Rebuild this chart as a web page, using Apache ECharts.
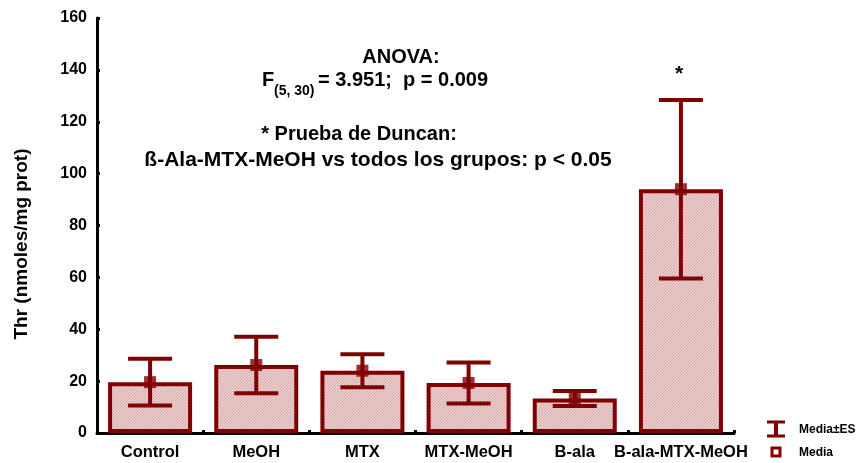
<!DOCTYPE html>
<html>
<head>
<meta charset="utf-8">
<script src="https://cdn.jsdelivr.net/npm/echarts@6/dist/echarts.min.js"></script>
<style>
  html, body { margin: 0; padding: 0; background: #ffffff; }
  #chart { width: 862px; height: 463px; }
</style>
</head>
<body>
<div id="chart"></div>
<script>
// Threonine levels per treatment group (mean and standard error)
const categories = ['Control', 'MeOH', 'MTX', 'MTX-MeOH', 'B-ala', 'B-ala-MTX-MeOH'];
const means = [19.6, 26.2, 24.0, 19.3, 13.3, 94.0];
const stdErrors = [9.0, 10.9, 6.4, 7.9, 2.9, 34.4];
const yTicks = [0, 20, 40, 60, 80, 100, 120, 140, 160];

const FONT = "'Liberation Sans', Arial, Helvetica, sans-serif";
const DARK_RED = '#800000';

// Fine diagonal hatch used as bar fill
function hatchPattern() {
  const c = document.createElement('canvas');
  c.width = 3; c.height = 3;
  const g = c.getContext('2d');
  g.fillStyle = '#ebcdcd';
  g.fillRect(0, 0, 3, 3);
  g.strokeStyle = '#d4aaaa';
  g.lineWidth = 1;
  g.beginPath();
  g.moveTo(0, 3); g.lineTo(3, 0);
  g.moveTo(-1, 1); g.lineTo(1, -1);
  g.moveTo(2, 4); g.lineTo(4, 2);
  g.stroke();
  return c;
}

const errorData = categories.map((c, i) => [i, means[i] - stdErrors[i], means[i] + stdErrors[i]]);

const chart = echarts.init(document.getElementById('chart'), null, { renderer: 'canvas' });

chart.setOption({
  animation: false,
  backgroundColor: '#ffffff',
  grid: { left: 97, right: 128, top: 18, bottom: 30, containLabel: false },
  xAxis: {
    type: 'category',
    data: categories,
    axisLine: { show: true, lineStyle: { color: '#000', width: 3 } },
    axisTick: { show: true, inside: true, length: 3, lineStyle: { color: '#000', width: 3 } },
    axisLabel: { color: '#000', fontFamily: FONT, fontWeight: 'bold', fontSize: 16.5, margin: 11, interval: 0 },
    splitLine: { show: false }
  },
  yAxis: {
    type: 'value',
    min: yTicks[0],
    max: yTicks[yTicks.length - 1],
    interval: yTicks[1] - yTicks[0],
    axisLine: { show: true, lineStyle: { color: '#000', width: 3 } },
    axisTick: { show: true, inside: true, length: 3, lineStyle: { color: '#000', width: 3 } },
    axisLabel: { color: '#000', fontFamily: FONT, fontWeight: 'bold', fontSize: 16, margin: 10 },
    splitLine: { show: false }
  },
  series: [
    {
      type: 'bar',
      data: means,
      barWidth: 84,
      itemStyle: {
        color: { image: hatchPattern(), repeat: 'repeat' },
        borderColor: DARK_RED,
        borderWidth: 4
      },
      z: 2
    },
    {
      type: 'custom',
      data: errorData,
      z: 3,
      renderItem: function (params, api) {
        const x = api.value(0);
        const lo = api.coord([x, api.value(1)]);
        const hi = api.coord([x, api.value(2)]);
        const half = 22;
        const style = { stroke: DARK_RED, lineWidth: 4 };
        return {
          type: 'group',
          children: [
            { type: 'line', shape: { x1: lo[0], y1: lo[1], x2: hi[0], y2: hi[1] }, style: style },
            { type: 'line', shape: { x1: hi[0] - half, y1: hi[1], x2: hi[0] + half, y2: hi[1] }, style: style },
            { type: 'line', shape: { x1: lo[0] - half, y1: lo[1], x2: lo[0] + half, y2: lo[1] }, style: style }
          ]
        };
      }
    },
    {
      type: 'scatter',
      data: means,
      symbol: 'rect',
      symbolSize: 12,
      itemStyle: { color: DARK_RED },
      z: 4
    }
  ],
  graphic: [
    // y-axis title
    {
      type: 'text', x: 22, y: 244, rotation: Math.PI / 2,
      style: { text: 'Thr (nmoles/mg prot)', font: "bold 19px " + FONT, fill: '#000', align: 'center', verticalAlign: 'middle' }
    },
    // statistics annotation
    {
      type: 'text', x: 401, y: 57,
      style: { text: 'ANOVA:', font: "bold 20px " + FONT, fill: '#000', align: 'center', verticalAlign: 'middle' }
    },
    {
      type: 'text', x: 262, y: 80,
      style: { text: 'F', font: "bold 20px " + FONT, fill: '#000', align: 'left', verticalAlign: 'middle' }
    },
    {
      type: 'text', x: 274, y: 91,
      style: { text: '(5, 30)', font: "bold 14px " + FONT, fill: '#000', align: 'left', verticalAlign: 'middle' }
    },
    {
      type: 'text', x: 318, y: 80,
      style: { text: '= 3.951;  p = 0.009', font: "bold 20px " + FONT, fill: '#000', align: 'left', verticalAlign: 'middle' }
    },
    {
      type: 'text', x: 359, y: 134,
      style: { text: '* Prueba de Duncan:', font: "bold 20px " + FONT, fill: '#000', align: 'center', verticalAlign: 'middle' }
    },
    {
      type: 'text', x: 378, y: 160,
      style: { text: 'ß-Ala-MTX-MeOH vs todos los grupos: p < 0.05', font: "bold 21px " + FONT, fill: '#000', align: 'center', verticalAlign: 'middle' }
    },
    // significance mark above the last group
    {
      type: 'text', x: 679, y: 74,
      style: { text: '*', font: "bold 21px " + FONT, fill: '#000', align: 'center', verticalAlign: 'middle' }
    },
    // legend: mean ± SE
    { type: 'line', shape: { x1: 776, y1: 422, x2: 776, y2: 436 }, style: { stroke: DARK_RED, lineWidth: 4 } },
    { type: 'line', shape: { x1: 767, y1: 422, x2: 785, y2: 422 }, style: { stroke: DARK_RED, lineWidth: 3 } },
    { type: 'line', shape: { x1: 767, y1: 436, x2: 785, y2: 436 }, style: { stroke: DARK_RED, lineWidth: 3 } },
    {
      type: 'text', x: 799, y: 430,
      style: { text: 'Media±ES', font: "bold 12px " + FONT, fill: '#000', align: 'left', verticalAlign: 'middle' }
    },
    // legend: mean
    { type: 'rect', shape: { x: 772, y: 448, width: 8, height: 8 }, style: { fill: '#fff', stroke: DARK_RED, lineWidth: 3 } },
    {
      type: 'text', x: 799, y: 453,
      style: { text: 'Media', font: "bold 12px " + FONT, fill: '#000', align: 'left', verticalAlign: 'middle' }
    }
  ]
});
</script>
</body>
</html>
